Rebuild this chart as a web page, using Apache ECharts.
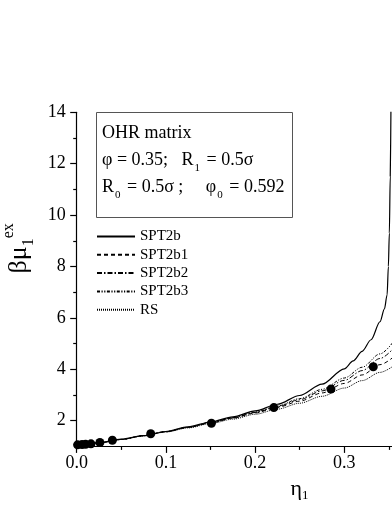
<!DOCTYPE html>
<html><head><meta charset="utf-8">
<script src="https://cdn.jsdelivr.net/npm/echarts@6/dist/echarts.min.js"></script>
<style>html,body{margin:0;padding:0;background:#fff}#c{width:392px;height:508px}</style>
</head><body><div id="c"></div>
<script>
const etaGrid = [0, 0.025, 0.05, 0.075, 0.1, 0.125, 0.15, 0.175, 0.2, 0.225, 0.25, 0.275, 0.3, 0.32, 0.34, 0.36];
const rsVals   = [1.03, 1.14, 1.27, 1.41, 1.56, 1.72, 1.89, 2.06, 2.25, 2.45, 2.68, 2.95, 3.27, 3.56, 3.88, 4.25];
const b1Vals   = [1.03, 1.14, 1.27, 1.42, 1.57, 1.74, 1.91, 2.10, 2.30, 2.52, 2.76, 3.08, 3.45, 3.78, 4.18, 4.62];
const b2Vals   = [1.03, 1.14, 1.27, 1.42, 1.57, 1.74, 1.92, 2.11, 2.32, 2.55, 2.82, 3.16, 3.57, 3.95, 4.42, 5.00];
const b3Vals   = [1.03, 1.14, 1.27, 1.42, 1.58, 1.75, 1.93, 2.12, 2.34, 2.57, 2.86, 3.22, 3.66, 4.08, 4.60, 5.30];
const solidEta = [0, 0.025, 0.05, 0.075, 0.1, 0.125, 0.15, 0.175, 0.2, 0.225, 0.25, 0.275, 0.3, 0.31, 0.32, 0.33, 0.34, 0.345, 0.348, 0.3494, 0.3505, 0.3515, 0.3523];
const solidVals = [1.03, 1.14, 1.28, 1.42, 1.58, 1.76, 1.95, 2.15, 2.38, 2.64, 2.98, 3.42, 4.02, 4.33, 4.70, 5.15, 5.85, 6.35, 6.9, 8.0, 9.3, 11.5, 14.2];
const simEta  = [0.001, 0.006, 0.010, 0.016, 0.026, 0.040, 0.083, 0.151, 0.221, 0.285, 0.3325];
const simVals = [1.06, 1.07, 1.08, 1.10, 1.15, 1.24, 1.49, 1.90, 2.51, 3.23, 4.10];
const yMajorTicks = [2, 4, 6, 8, 10, 12, 14];
const yMinorTicks = [3, 5, 7, 9, 11, 13];

const pair = (xs, ys) => xs.map((x, i) => [x, ys[i]]);
const FONT = 'Liberation Serif';
const chart = echarts.init(document.getElementById('c'), null, {renderer: 'canvas'});

const lineSeries = (name, xs, ys, type, width) => ({
  name, type: 'line', data: pair(xs, ys), showSymbol: false, symbol: 'none',
  smooth: 0.3, smoothMonotone: 'x', clip: true, silent: true,
  lineStyle: {color: '#000', width: width, type: type}, itemStyle: {color: '#000'}, z: 3
});
const tickRich = {t: {fontFamily: FONT, fontSize: 18, color: '#000', lineHeight: 20}};

chart.setOption({
  animation: false,
  backgroundColor: '#fff',
  textStyle: {fontFamily: FONT, color: '#000'},
  grid: {left: 76.7, top: 112.3, bottom: 61.6, right: -41.5, containLabel: false, outerBoundsMode: 'none'},
  title: {
    left: 96, top: 112,
    padding: [8, 8, 17, 6],
    borderColor: '#555', borderWidth: 1,
    text: '{a|OHR matrix}\n{a|φ = 0.35;   R}{s|1}{a| = 0.5σ}\n{a|R}{s|0}{a| = 0.5σ ;     φ}{s|0}{a| = 0.592}',
    textStyle: {
      fontFamily: FONT, fontSize: 18, fontWeight: 'normal', color: '#000', lineHeight: 27,
      rich: {
        a: {fontFamily: FONT, fontSize: 18, color: '#000', lineHeight: 27},
        s: {fontFamily: FONT, fontSize: 11, color: '#000', lineHeight: 12, verticalAlign: 'bottom', padding: [0, 2, 0, 1]}
      }
    }
  },
  legend: {
    orient: 'vertical', left: 96, top: 229, itemWidth: 38, itemHeight: 14, itemGap: 3.3,
    padding: 0, itemStyle: {opacity: 0},
    textStyle: {fontFamily: FONT, fontSize: 15, color: '#000'},
    data: ['SPT2b', 'SPT2b1', 'SPT2b2', 'SPT2b3', 'RS']
  },
  xAxis: {
    type: 'value', min: 0, max: 0.4, interval: 0.1,
    name: '{m|η}{s|1}', nameLocation: 'middle', nameGap: 30,
    nameTextStyle: {fontFamily: FONT, fontSize: 22, color: '#000', padding: [0, 0, 0, 89],
      rich: {m: {fontFamily: FONT, fontSize: 22, color: '#000', lineHeight: 26},
             s: {fontFamily: FONT, fontSize: 13, verticalAlign: 'bottom', lineHeight: 14, color: '#000'}}},
    axisLine: {show: true, onZero: false, lineStyle: {color: '#000', width: 1.2}},
    axisTick: {show: true, inside: false, length: 6.5, lineStyle: {color: '#000', width: 1.2}},
    minorTick: {show: true, splitNumber: 2, length: 3.5, lineStyle: {color: '#000', width: 1.2}},
    splitLine: {show: false}, minorSplitLine: {show: false},
    axisLabel: {fontFamily: FONT, fontSize: 18, color: '#000', margin: 7, rich: tickRich,
      formatter: v => '{t|' + v.toFixed(1) + '}'}
  },
  yAxis: [{
    type: 'value', min: 1, max: 14, position: 'left',
    name: '{m|βμ}{s|1}{u|ex}', nameLocation: 'middle', nameGap: 40, nameRotate: 90,
    nameMoveOverlap: false,
    nameTextStyle: {fontFamily: FONT, padding: [0, 0, 0, 62], lineHeight: 36,
      rich: {
        m: {fontFamily: FONT, fontSize: 26, color: '#000', lineHeight: 36},
        s: {fontFamily: FONT, fontSize: 16, color: '#000', lineHeight: 16, verticalAlign: 'bottom'},
        u: {fontFamily: FONT, fontSize: 16, color: '#000', lineHeight: 16, verticalAlign: 'top'}
      }},
    axisLine: {show: true, onZero: false, lineStyle: {color: '#000', width: 1.2}},
    axisTick: {show: true, inside: false, length: 6.5, customValues: yMajorTicks, lineStyle: {color: '#000', width: 1.2}},
    splitLine: {show: false},
    axisLabel: {fontFamily: FONT, fontSize: 18, color: '#000', margin: 11, customValues: yMajorTicks, rich: tickRich,
      formatter: v => '{t|' + v + '}'}
  }, {
    type: 'value', min: 1, max: 14, position: 'left', offset: 0,
    axisLine: {show: false},
    axisTick: {show: true, inside: false, length: 3.5, customValues: yMinorTicks, lineStyle: {color: '#000', width: 1.2}},
    axisLabel: {show: false}, splitLine: {show: false}
  }],
  series: [
    lineSeries('SPT2b', solidEta, solidVals, 'solid', 1.2),
    lineSeries('SPT2b1', etaGrid, b1Vals, [4, 3], 1),
    lineSeries('SPT2b2', etaGrid, b2Vals, [5, 2, 1.5, 2], 1),
    lineSeries('SPT2b3', etaGrid, b3Vals, [3, 1.5, 1.2, 1.5, 1.2, 1.5], 1),
    lineSeries('RS', etaGrid, rsVals, [1, 1], 1),
    {name: 'sim', type: 'scatter', data: pair(simEta, simVals), symbol: 'circle', symbolSize: 9,
      itemStyle: {color: '#000', opacity: 1}, z: 5, silent: true}
  ]
});
</script>
</body></html>
